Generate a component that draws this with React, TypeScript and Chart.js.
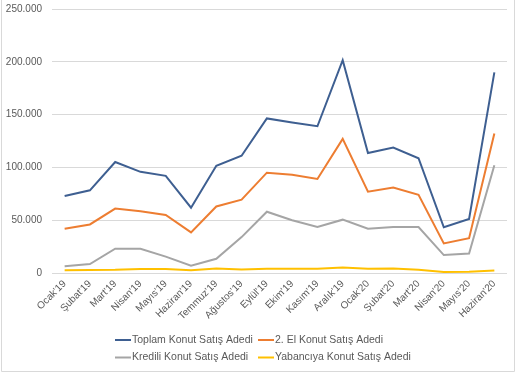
import React, { useEffect, useRef } from "react";
import { Chart, registerables } from "chart.js";

Chart.register(...registerables);

const categories = [
  "Ocak'19", "Şubat'19", "Mart'19", "Nisan'19", "Mayıs'19", "Haziran'19",
  "Temmuz'19", "Ağustos'19", "Eylül'19", "Ekim'19", "Kasım'19", "Aralık'19",
  "Ocak'20", "Şubat'20", "Mart'20", "Nisan'20", "Mayıs'20", "Haziran'20",
];

const toplam = [72937, 78313, 105084, 95792, 92029, 61861, 101589, 110996, 146366, 142621, 138975, 201585, 113615, 118753, 108669, 43351, 51101, 190012];
const ikinciEl = [42000, 46000, 61000, 58500, 55000, 38500, 63000, 69500, 95000, 93000, 89000, 127000, 77000, 81000, 74000, 28000, 33000, 132000];
const kredili = [6500, 8500, 23000, 23000, 15500, 7000, 13500, 34000, 58000, 50000, 43500, 50500, 42000, 43500, 43500, 17000, 18500, 102000];
const yabanci = [2700, 2900, 3100, 3900, 3800, 2700, 4200, 3300, 4100, 4100, 4100, 5200, 4100, 4200, 3100, 1000, 1100, 2400];

const seriesNames = [
  "Toplam Konut Satış Adedi",
  "2. El Konut Satış Adedi",
  "Kredili Konut Satış Adedi",
  "Yabancıya Konut Satış Adedi",
];
const seriesColors = ["#3E5F91", "#ED7D31", "#A5A5A5", "#FFC000"];

const yTicks = [0, 50000, 100000, 150000, 200000, 250000];

const FONT = "'Liberation Sans', Arial, sans-serif";

function fmt(v: number): string {
  return String(Math.round(v)).replace(/\B(?=(\d{3})+(?!\d))/g, ".");
}

const framePlugin = {
  id: "frameAndLegend",
  afterDraw(chart: any) {
    const ctx = chart.ctx;
    const w = chart.width;
    const h = chart.height;
    ctx.save();
    ctx.strokeStyle = "#D9D9D9";
    ctx.lineWidth = 1;
    ctx.beginPath();
    ctx.moveTo(1.5, 0);
    ctx.lineTo(1.5, h - 2.5);
    ctx.lineTo(w - 2.5, h - 2.5);
    ctx.lineTo(w - 2.5, 0);
    ctx.stroke();

    const positions = [
      [115, 340],
      [258, 340],
      [115, 357.5],
      [258, 357.5],
    ];
    ctx.font = `10.5px ${FONT}`;
    ctx.textBaseline = "middle";
    ctx.textAlign = "left";
    seriesNames.forEach((name, i) => {
      const [x, y] = positions[i];
      ctx.strokeStyle = seriesColors[i];
      ctx.lineWidth = 2;
      ctx.beginPath();
      ctx.moveTo(x, y);
      ctx.lineTo(x + 16, y);
      ctx.stroke();
      ctx.fillStyle = "#595959";
      ctx.fillText(name, x + 17, y);
    });
    ctx.restore();
  },
};

export default function App() {
  const ref = useRef<HTMLCanvasElement | null>(null);

  useEffect(() => {
    document.body.style.margin = "0";
    const canvas = ref.current;
    if (!canvas) return;
    const seriesData = [toplam, ikinciEl, kredili, yabanci];
    const chart = new Chart(canvas, {
      type: "line",
      data: {
        labels: categories,
        datasets: seriesData.map((d, i) => ({
          label: seriesNames[i],
          data: d,
          borderColor: seriesColors[i],
          backgroundColor: seriesColors[i],
          borderWidth: 2,
          pointRadius: 0,
          tension: 0,
          fill: false,
          order: 3 - i,
        })),
      },
      options: {
        animation: false,
        responsive: false,
        maintainAspectRatio: false,
        layout: { autoPadding: false, padding: { left: 0, right: 10, top: 9, bottom: 0 } },
        plugins: {
          legend: { display: false },
          tooltip: { enabled: false },
        },
        scales: {
          x: {
            offset: true,
            grid: { display: false, drawTicks: false },
            border: { display: false },
            ticks: {
              autoSkip: false,
              minRotation: 45,
              maxRotation: 45,
              padding: 5,
              color: "#595959",
              font: { family: FONT, size: 10 },
            },
            afterFit: (s: any) => {
              s.height = 101;
              s.paddingLeft = 0;
              s.paddingRight = 0;
            },
          },
          y: {
            min: 0,
            max: 250000,
            afterBuildTicks: (s: any) => {
              s.ticks = yTicks.map((v) => ({ value: v }));
            },
            grid: { color: "#D9D9D9", drawTicks: false, lineWidth: 1 },
            border: { display: false },
            ticks: {
              padding: 10,
              color: "#595959",
              font: { family: FONT, size: 10 },
              callback: (v: any) => fmt(Number(v)),
            },
            afterFit: (s: any) => {
              s.width = 52;
              s.paddingTop = 0;
              s.paddingBottom = 0;
            },
          },
        },
      },
      plugins: [framePlugin],
    });
    return () => chart.destroy();
  }, []);

  return <canvas ref={ref} width={517} height={374} style={{ display: "block" }} />;
}
